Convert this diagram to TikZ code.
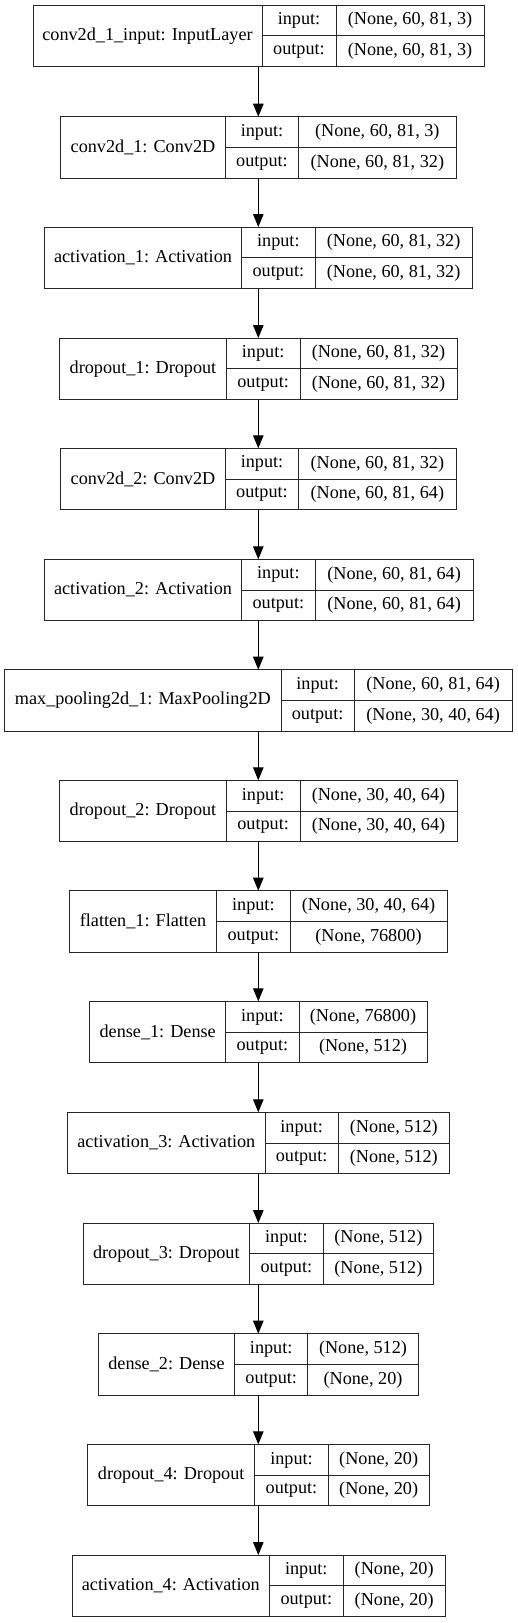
\documentclass[tikz,border=0pt]{standalone}
\usepackage{fontspec}
\setmainfont{Liberation Serif}
\usetikzlibrary{arrows.meta}
\tikzset{
  lbox/.style={draw=black!85, line width=1pt, inner sep=0pt, outer sep=0pt, minimum height=61.5pt, anchor=north west},
  cell/.style={draw=black!85, line width=1pt},
  txt/.style={inner sep=0pt, font=\fontsize{18.2}{22}\selectfont},
  arr/.style={line width=1pt, -{Triangle[length=13pt,width=10.5pt]}}
}
% #1 name, #2 top, #3 x0, #4 x1, #5 d1, #6 d2, #7 label, #8 in, #9 out
\newcommand\layerbox[9]{%
  \node[lbox, minimum width={(#4-#3)*1pt}] (#1) at (#3,#2) {};
  \draw[cell] (#5,#2) -- (#5,#2+61.5);
  \draw[cell] (#6,#2) -- (#6,#2+61.5);
  \draw[cell] (#5,#2+30.75) -- (#4,#2+30.75);
  \node[txt] (#1-lab) at ({(#3+#5)/2},#2+30.75) {#7};
  \node[txt] (#1-ik) at ({(#5+#6)/2},#2+15.6) {input:};
  \node[txt] (#1-ok) at ({(#5+#6)/2},#2+46.2) {output:};
  \node[txt] (#1-iv) at ({(#6+#4)/2},#2+15.6) {#8};
  \node[txt] (#1-ov) at ({(#6+#4)/2},#2+46.2) {#9};
}
\begin{document}
\begin{tikzpicture}[x=1pt,y=-1pt]
\useasboundingbox (0,0) rectangle (517,1623);
\coordinate (ax) at (258.3,0);
\layerbox{L1}{5}{33}{484}{262}{336}{conv2d\_1\_input: InputLayer}{(None, 60, 81, 3)}{(None, 60, 81, 3)}
\layerbox{L2}{116.7}{60.7}{456}{225.3}{298.7}{conv2d\_1: Conv2D}{(None, 60, 81, 3)}{(None, 60, 81, 32)}
\layerbox{L3}{227}{44.3}{472.3}{241.7}{315}{activation\_1: Activation}{(None, 60, 81, 32)}{(None, 60, 81, 32)}
\layerbox{L4}{338}{59.7}{457}{226.3}{300}{dropout\_1: Dropout}{(None, 60, 81, 32)}{(None, 60, 81, 32)}
\layerbox{L5}{448.3}{60.7}{456}{225.3}{298.7}{conv2d\_2: Conv2D}{(None, 60, 81, 32)}{(None, 60, 81, 64)}
\layerbox{L6}{559.3}{44.3}{473.3}{241.7}{315}{activation\_2: Activation}{(None, 60, 81, 64)}{(None, 60, 81, 64)}
\layerbox{L7}{669.7}{4.7}{512}{281}{354.3}{max\_pooling2d\_1: MaxPooling2D}{(None, 60, 81, 64)}{(None, 30, 40, 64)}
\layerbox{L8}{780.3}{59.7}{457}{226.3}{300}{dropout\_2: Dropout}{(None, 30, 40, 64)}{(None, 30, 40, 64)}
\layerbox{L9}{890.7}{69.3}{447}{216.7}{290}{flatten\_1: Flatten}{(None, 30, 40, 64)}{(None, 76800)}
\layerbox{L10}{1001.3}{89.7}{427}{225.7}{299}{dense\_1: Dense}{(None, 76800)}{(None, 512)}
\layerbox{L11}{1112.3}{67.7}{449.3}{265}{338.3}{activation\_3: Activation}{(None, 512)}{(None, 512)}
\layerbox{L12}{1223}{83}{433.7}{249.7}{323}{dropout\_3: Dropout}{(None, 512)}{(None, 512)}
\layerbox{L13}{1333.7}{98.3}{418.3}{234.7}{307.7}{dense\_2: Dense}{(None, 512)}{(None, 20)}
\layerbox{L14}{1444.3}{87.7}{429}{254.7}{328.3}{dropout\_4: Dropout}{(None, 20)}{(None, 20)}
\layerbox{L15}{1555}{72.3}{445}{269.3}{343.3}{activation\_4: Activation}{(None, 20)}{(None, 20)}
\foreach \a/\b in {L1/L2,L2/L3,L3/L4,L4/L5,L5/L6,L6/L7,L7/L8,L8/L9,L9/L10,L10/L11,L11/L12,L12/L13,L13/L14,L14/L15}
  \draw[arr] (\a.south -| ax) -- (\b.north -| ax);
\end{tikzpicture}
\end{document}
